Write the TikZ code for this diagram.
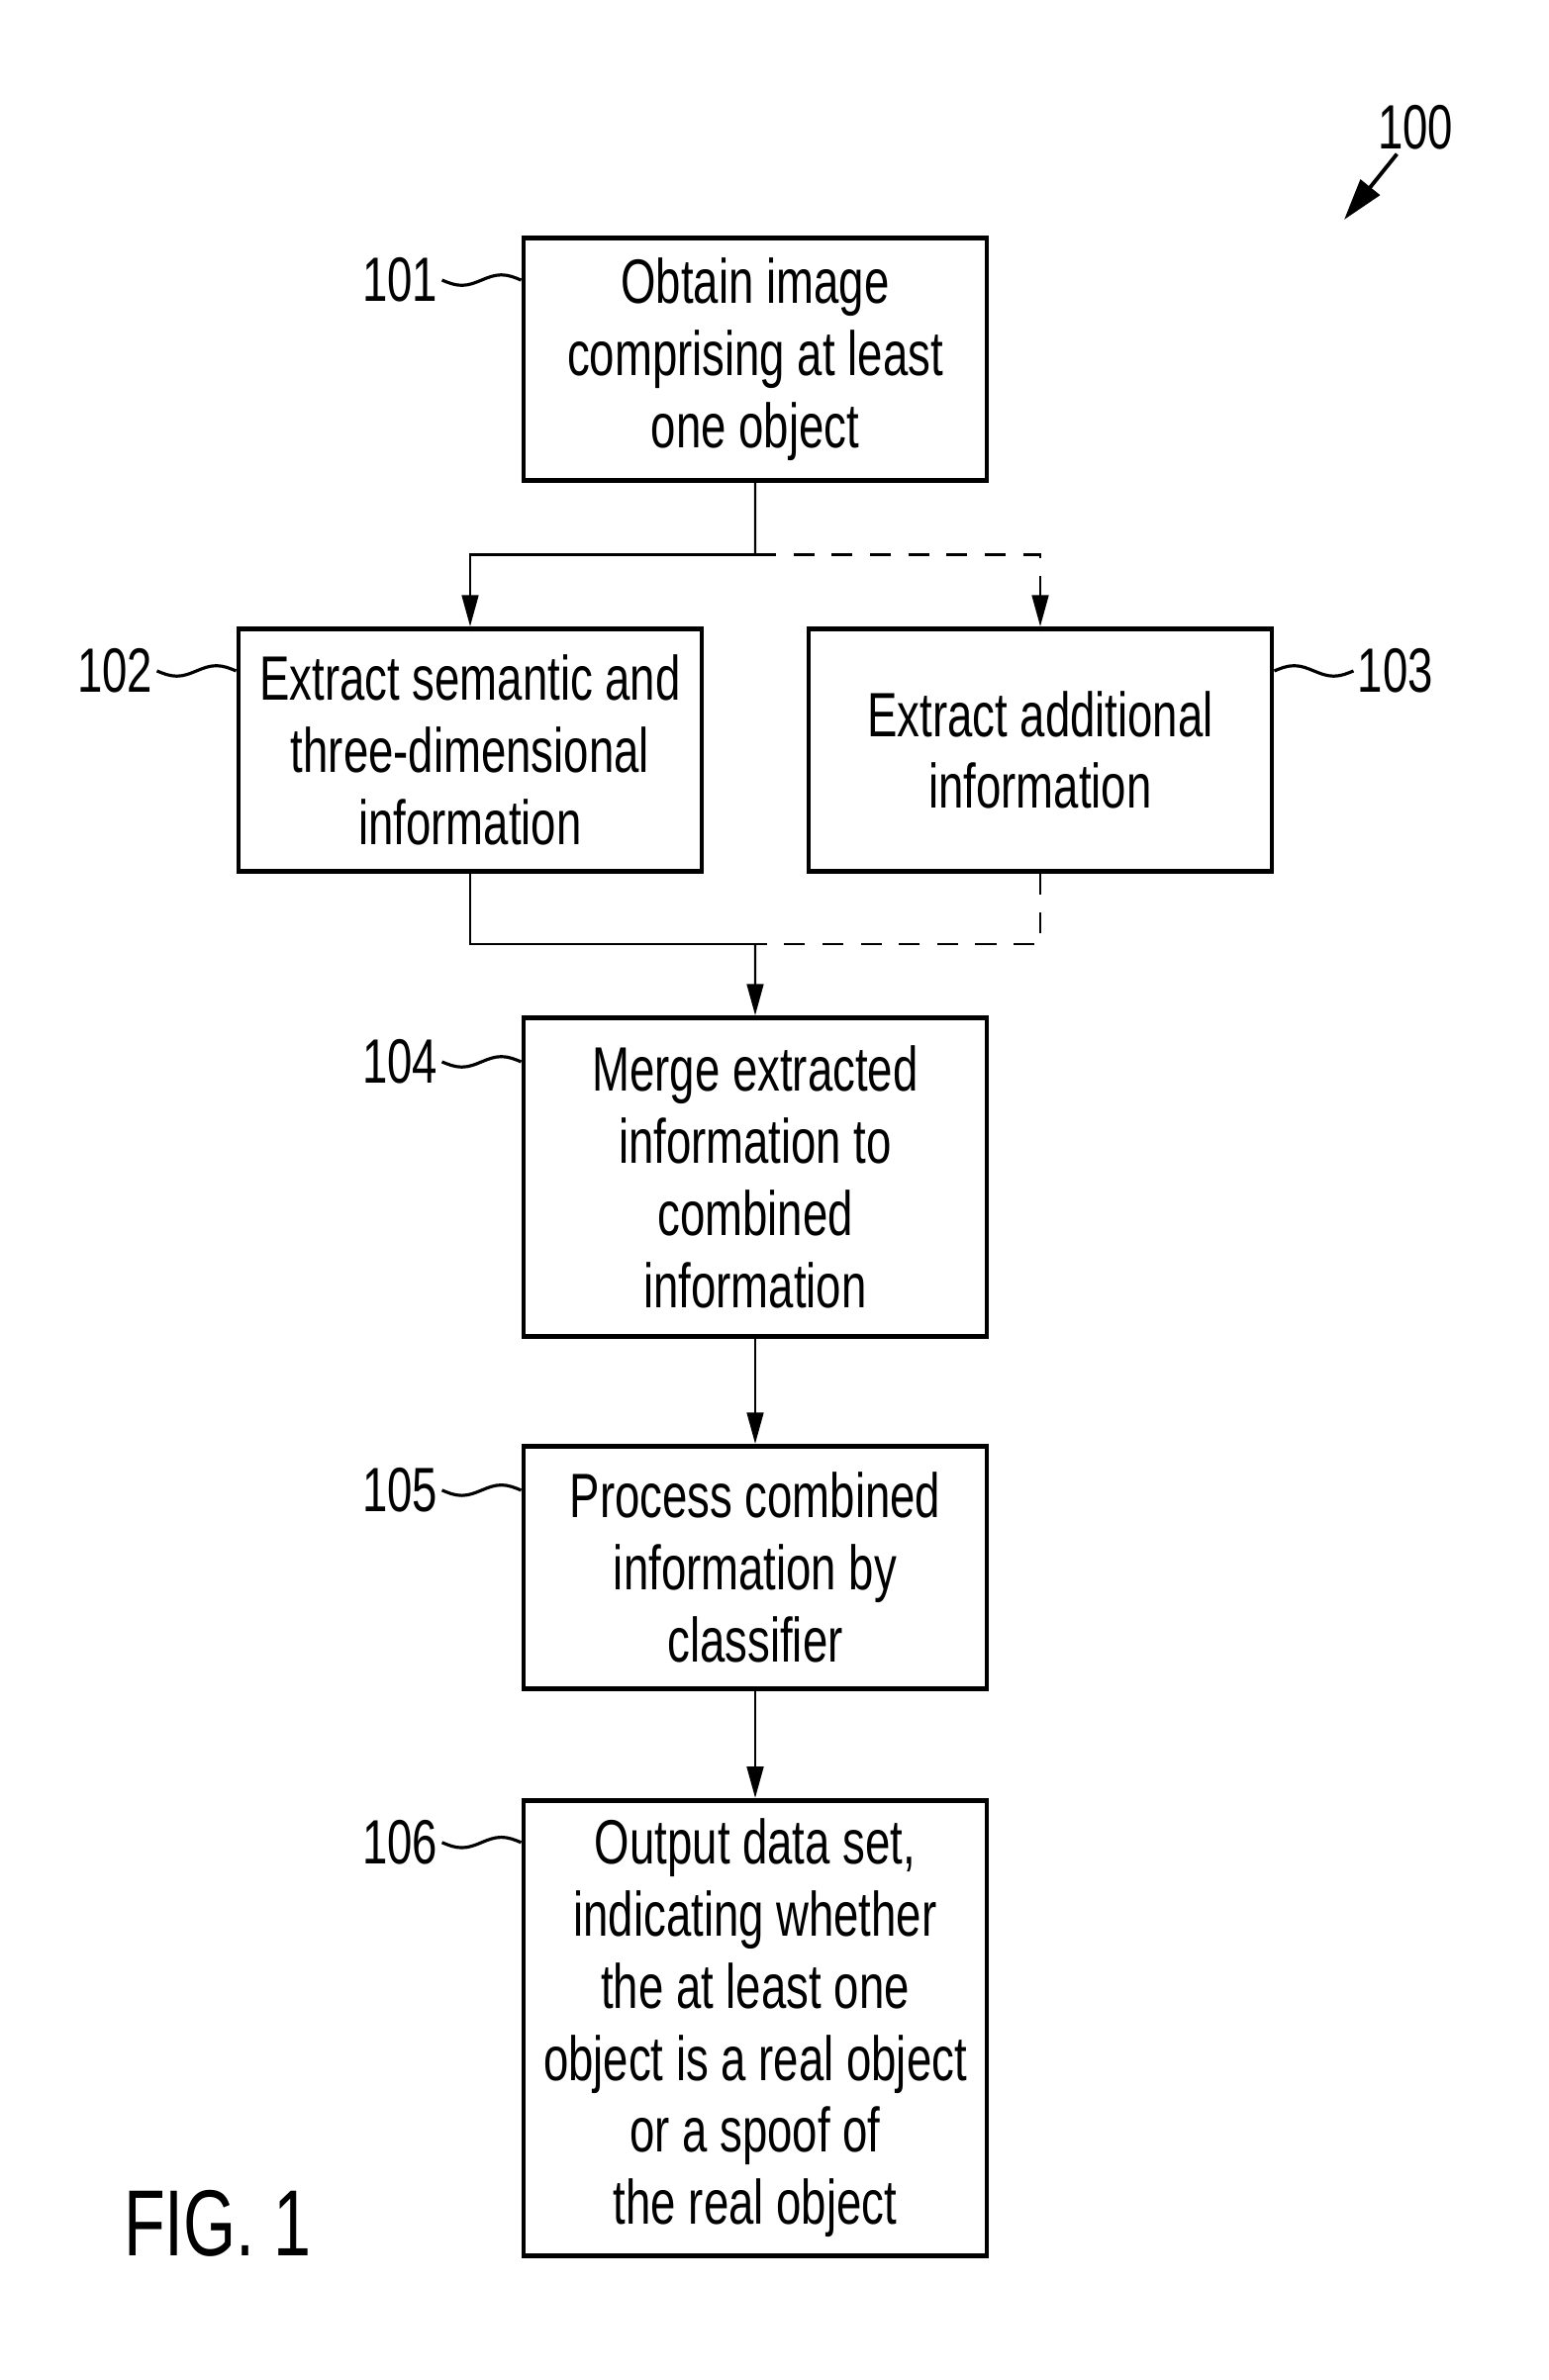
\documentclass[tikz,border=0pt]{standalone}
\usepackage{fontspec}
\setmainfont{Liberation Sans}[FakeStretch=0.72]
\usetikzlibrary{positioning, arrows.meta, calc}

\begin{document}
\begin{tikzpicture}[
  stepbox/.style={draw, line width=1.4pt, minimum width=4.68cm, minimum height=2.45cm,
                  inner sep=2pt, align=center, font=\fontsize{18pt}{20.7pt}\selectfont},
  ref/.style={inner sep=1pt, font=\fontsize{18pt}{20.7pt}\selectfont},
  line/.style={line width=0.6pt},
  arr/.style={-{Triangle[length=9pt, width=4.8pt]}, line width=0.6pt},
  dashline/.style={dash pattern=on 6pt off 5pt},
  leader/.style={line width=0.9pt, to path={let \p1=(\tikztostart), \p2=(\tikztotarget),
                 \n1={(\x2-\x1)/4}, \n2={1.5pt*#1}, \n3={-1.5pt*#1} in
                 sin ++(\n1,\n3) cos ++(\n1,\n2)
                 sin ++(\n1,\n2) cos ++(\n1,\n3)}},
  leader/.default=1,
]
\useasboundingbox (0,0) rectangle (15.65,-24.05);

% ===== STEP BOXES =====
\node[stepbox] (s101) at (7.63,-3.63) {Obtain image\\comprising at least\\one object};
\node[stepbox, below=1.45cm of s101, xshift=-2.88cm] (s102) {Extract semantic and\\three-dimensional\\information};
\node[stepbox, below=1.45cm of s101, xshift=2.88cm] (s103) {Extract additional\\information};
\node[stepbox, minimum height=3.22cm, below=5.38cm of s101] (s104) {Merge extracted\\information to\\combined\\information};
\node[stepbox, below=1.06cm of s104] (s105) {Process combined\\information by\\classifier};
\node[stepbox, minimum height=4.6cm, below=1.08cm of s105] (s106) {Output data set,\\indicating whether\\the at least one\\object is a real object\\or a spoof of\\the real object};

% ===== REFERENCE NUMERALS =====
\node[ref, left=0.8cm of s101.north west, yshift=-0.45cm] (l101) {101};
\node[ref, left=0.8cm of s102.north west, yshift=-0.45cm] (l102) {102};
\node[ref, right=0.8cm of s103.north east, yshift=-0.45cm] (l103) {103};
\node[ref, left=0.8cm of s104.north west, yshift=-0.47cm] (l104) {104};
\node[ref, left=0.8cm of s105.north west, yshift=-0.47cm] (l105) {105};
\node[ref, left=0.8cm of s106.north west, yshift=-0.45cm] (l106) {106};
\node[ref] (l100) at (14.30,-1.29) {100};
\coordinate (tip100) at (13.58,-2.22);

\draw[leader] (l101.east) to (l101.east -| s101.west);
\draw[leader] (l102.east) to (l102.east -| s102.west);
\draw[leader=-1] (l103.west -| s103.east) to (l103.west);
\draw[leader] (l104.east) to (l104.east -| s104.west);
\draw[leader] (l105.east) to (l105.east -| s105.west);
\draw[leader] (l106.east) to (l106.east -| s106.west);
\draw[-{Triangle[length=12pt, width=7pt]}, line width=1.1pt] (l100.-125) -- (tip100);

% ===== FLOW =====
% split after obtaining the image
\coordinate (split) at ($(s101.south)!0.5!(s101.south |- s102.north)$);
\draw[line] (s101.south) -- (split);
\draw[arr] (split) -| (s102.north);
\draw[arr, dashline] (split) -| (s103.north);

% merge of both extractions
\coordinate (merge) at ($(s104.north)!0.5!(s104.north |- s102.south)$);
\draw[line] (s102.south) |- (merge);
\draw[line, dashline] (s103.south) |- (merge);
\draw[arr] (merge) -- (s104.north);

\draw[arr] (s104) -- (s105);
\draw[arr] (s105) -- (s106);

% ===== FIGURE NAME =====
\node[font=\fontsize{27pt}{30pt}\selectfont] (fig) at (2.20,-22.47) {FIG. 1};

\end{tikzpicture}
\end{document}
